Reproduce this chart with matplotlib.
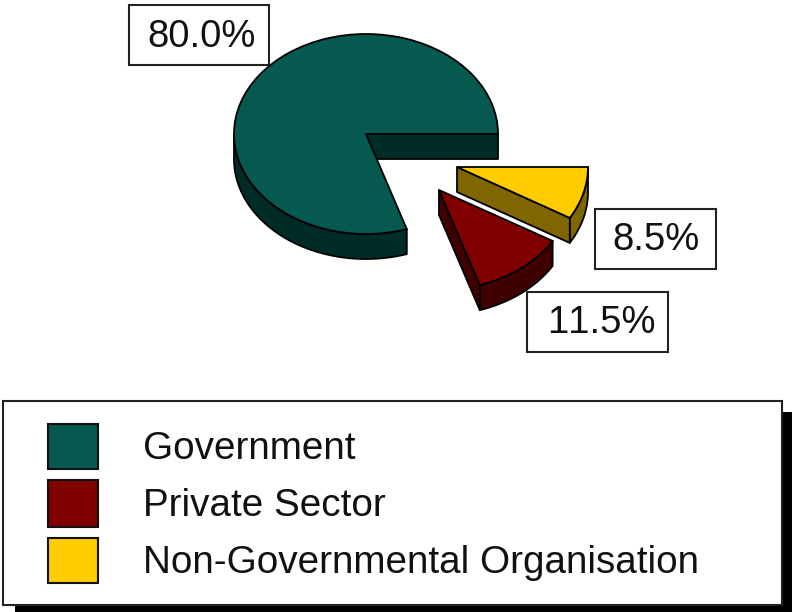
import numpy as np
import matplotlib
matplotlib.use("Agg")
import matplotlib.pyplot as plt
from matplotlib.patches import Wedge, Polygon, Rectangle
from matplotlib.transforms import Affine2D

categories = ["Government", "Private Sector", "Non-Governmental Organisation"]
shares = [80.0, 11.5, 8.5]
share_labels = ["80.0%", "11.5%", "8.5%"]

top_colors = ["#06594f", "#800000", "#ffcc00"]
side_colors = ["#002c27", "#400000", "#806600"]
centers = [(366, 134), (439, 190), (457, 167)]
radii = [(132, 100), (132, 100), (131, 100)]
DEPTH = 25
H = 612

plt.rcParams["font.family"] = ["Liberation Sans", "DejaVu Sans"]
plt.rcParams["text.kerning_factor"] = 6
fig = plt.figure(figsize=(7.92, 6.12), dpi=100)
ax = fig.add_axes([0, 0, 1, 1])
ax.set_xlim(0, 792)
ax.set_ylim(0, H)
ax.axis("off")

LW = 1.3
edges = 360 * np.cumsum([0] + shares) / np.sum(shares)


def pt(c, r, a):
    t = np.radians(a)
    return np.array([c[0] + r[0] * np.cos(t), H - c[1] + r[1] * np.sin(t)])


def draw_slice(i, z):
    a0, a1 = edges[i], edges[i + 1]
    c, r = centers[i], radii[i]
    side = dict(facecolor=side_colors[i], edgecolor="black", lw=LW, joinstyle="round", zorder=z)
    drop = np.array([0, DEPTH])
    # outer wall: only the part of the rim facing the viewer
    arc = np.array([pt(c, r, a) for a in np.linspace(max(a0, 180), a1, 120)])
    ax.add_patch(Polygon(np.vstack([arc, (arc - drop)[::-1]]), closed=True, **side))
    # radial cut wall at the slice's starting angle
    centre = np.array([c[0], H - c[1]])
    cut = pt(c, r, a0)
    ax.add_patch(Polygon([centre, cut, cut - drop, centre - drop], closed=True, **side))
    tr = Affine2D().scale(r[0], r[1]).translate(c[0], H - c[1]) + ax.transData
    ax.add_patch(Wedge((0, 0), 1, a0, a1, transform=tr, facecolor=top_colors[i],
                       edgecolor="black", lw=LW, zorder=z + 0.5))


draw_slice(1, 2)
draw_slice(2, 3)
draw_slice(0, 4)


def box(x0, y0, x1, y1, z=6, lw=1.5, fc="white", ec="#222222"):
    ax.add_patch(Rectangle((x0, H - y1), x1 - x0, y1 - y0, facecolor=fc, edgecolor=ec, lw=lw, zorder=z))


label_boxes = [(129, 5, 269, 65), (527, 292, 668, 352), (595, 209, 716, 269)]
label_pos = [(201.5, 47), (601.5, 333), (656.5, 250)]
for b, (x, y), s in zip(label_boxes, label_pos, share_labels):
    box(*b)
    ax.text(x, H - y, s, fontsize=27.5, ha="center", va="baseline", color="#111111", zorder=7)

# legend with its drop shadow
box(15, 412, 792, 612, z=8, lw=0, fc="black", ec="black")
box(3, 401, 782, 605, z=9)
swatches = [(48, 424, 98, 469), (48, 480, 98, 527), (48, 538, 98, 583)]
baselines = [459, 516, 573]
for s, b, name, col in zip(swatches, baselines, categories, top_colors):
    box(*s, z=10, fc=col, ec="#111111")
    ax.text(143, H - b, name, fontsize=27.8, ha="left", va="baseline", color="#111111", zorder=10)

fig.savefig("out.png", dpi=100, facecolor="white")
